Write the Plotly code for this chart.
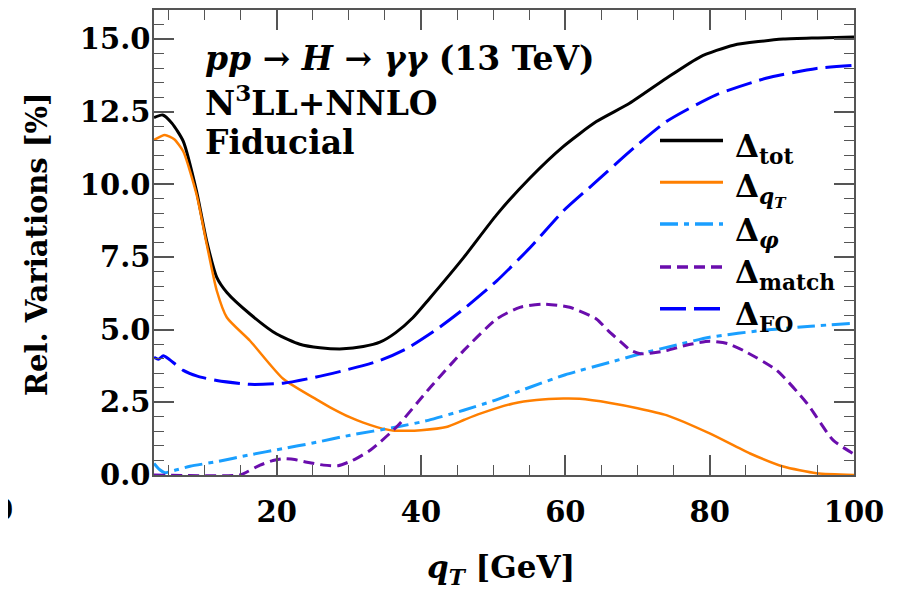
import plotly.graph_objects as go

# ---------------- data ----------------
x_tot = [3, 4.2, 5.5, 7.06, 8.9, 10.3, 11.7, 13.1, 16.3, 20, 23.2, 26, 29.2, 32, 34.3,
         36.5, 38.9, 41.1, 45.9, 50.5, 55.1, 59.7, 64.3, 68.9, 74, 78.7, 83.3, 90.2, 95, 100]
y_tot = [12.3, 12.39, 12.1, 11.48, 9.76, 8.05, 6.8, 6.28, 5.54, 4.85, 4.5, 4.38, 4.34, 4.42, 4.57,
         4.9, 5.42, 6.05, 7.48, 8.96, 10.22, 11.3, 12.16, 12.79, 13.65, 14.39, 14.79, 15.0, 15.04, 15.07]

x_qt = [3, 4.5, 5.8, 7.06, 8.9, 10.3, 11.7, 13.1, 16.3, 20.9, 25.5, 27.4, 30.2, 32, 34, 36.1,
        38, 40, 43.5, 46, 48.2, 52.8, 56, 59.7, 62, 66.2, 70, 74, 80, 85.6, 90.2, 94.8, 100]
y_qt = [11.53, 11.7, 11.55, 11.13, 9.65, 7.95, 6.34, 5.42, 4.62, 3.31, 2.6, 2.33, 1.98, 1.8, 1.64, 1.53,
        1.52, 1.54, 1.65, 1.9, 2.11, 2.46, 2.58, 2.63, 2.62, 2.48, 2.3, 2.06, 1.43, 0.74, 0.29, 0.06, 0.0]

x_phi = [3, 3.8, 4.5, 6, 8, 11.7, 16, 20.9, 25, 30.2, 36.6, 41, 45.9, 50, 55.1, 60, 66.2,
         70.4, 75, 80, 87.8, 94, 100]
y_phi = [0.4, 0.18, 0.08, 0.17, 0.3, 0.46, 0.68, 0.91, 1.1, 1.37, 1.65, 1.88, 2.23, 2.55, 3.02, 3.45, 3.88,
         4.17, 4.45, 4.74, 4.99, 5.12, 5.22]

x_match = [3, 14.9, 16, 17.7, 19.5, 20.9, 22.5, 24, 26.5, 28.5, 30.5, 33, 36.6, 41.3, 45.9, 50.5,
           53.7, 56.9, 60.6, 64.3, 66, 67.6, 69, 70.4, 72, 74, 77, 80, 82.5, 84.7, 89.3, 93.5, 97.1, 100]
y_match = [0.0, 0.0, 0.12, 0.34, 0.5, 0.56, 0.53, 0.45, 0.34, 0.32, 0.5, 0.86, 1.65, 3.02, 4.28, 5.37,
           5.77, 5.88, 5.77, 5.37, 4.95, 4.6, 4.3, 4.17, 4.2, 4.28, 4.48, 4.6, 4.52, 4.28, 3.6, 2.46, 1.2, 0.72]

x_fo = [3, 3.6, 4.3, 5, 7.06, 9, 11.7, 16.3, 20.9, 25.5, 30.2, 34.3, 38, 42.2, 45.9, 50.5, 55.1,
        59.7, 64.3, 68.9, 74, 80.9, 87.8, 94.8, 100]
y_fo = [4.05, 3.98, 4.1, 4.0, 3.6, 3.4, 3.25, 3.12, 3.16, 3.37, 3.65, 3.94, 4.35, 5.02, 5.71, 6.68, 7.82,
        9.08, 10.1, 11.13, 12.16, 13.08, 13.65, 13.99, 14.1]

x_ticks = [20, 40, 60, 80, 100]
y_ticks = [0, 2.5, 5, 7.5, 10, 12.5, 15]

series_names = ["Δ<sub>tot</sub>", "Δ<sub><i>q<sub>T</sub></i></sub>", "Δ<sub><i>φ</i></sub>",
                "Δ<sub>match</sub>", "Δ<sub>FO</sub>"]

# ---------------- styles ----------------
FONT = "DejaVu Serif"
AX = "#555555"
styles = [
    dict(color="#000000", width=3, dash="solid"),
    dict(color="#ff7f00", width=2.5, dash="solid"),
    dict(color="#1a9fff", width=3, dash="18px,6px,5px,6px"),
    dict(color="#6a0dad", width=3, dash="11px,6px"),
    dict(color="#0000ff", width=3, dash="26px,8px"),
]
data = [(x_tot, y_tot), (x_qt, y_qt), (x_phi, y_phi), (x_match, y_match), (x_fo, y_fo)]

fig = go.Figure()
for (xs, ys), st, nm in zip(data, styles, series_names):
    fig.add_trace(go.Scatter(x=xs, y=ys, mode="lines", name=nm,
                             line=dict(color=st["color"], width=st["width"], dash=st["dash"],
                                       shape="spline", smoothing=0.6),
                             showlegend=False))

# page has an 8px body margin: shrink figure so the plot area lands where the reference has it
OFF = 8
W, H = 898 - OFF, 589 - OFF
PL, PR, PT, PB = 154, 854, 8, 475          # plot area in screen pixels
L, T = PL - OFF, PT - OFF
R, B = W - (PR - OFF), H - (PB - OFF)
pw, ph = PR - PL, PB - PT

def px(xp):
    return (xp - PL) / pw

def py(yp):
    return (PB - yp) / ph

# manual legend
rows = [139, 181, 223, 266, 308]
for st, nm, yr in zip(styles, series_names, rows):
    fig.add_shape(type="line", xref="paper", yref="paper",
                  x0=px(660), x1=px(723), y0=py(yr), y1=py(yr),
                  line=dict(color=st["color"], width=st["width"] + 0.5, dash=st["dash"]))
    fig.add_annotation(xref="paper", yref="paper", x=px(733), y=py(yr + 8),
                       xanchor="left", yanchor="middle", text=nm, showarrow=False,
                       font=dict(family=FONT, size=31, color="black", weight="bold"))

# text block
labels = ["<i>pp</i> → <i>H</i> → <i>γγ</i> (13 TeV)", "N<sup>3</sup>LL+NNLO", "Fiducial"]
for t, yc in zip(labels, [57, 99, 141]):
    fig.add_annotation(xref="paper", yref="paper", x=px(203), y=py(yc),
                       xanchor="left", yanchor="middle", text=t, showarrow=False,
                       font=dict(family=FONT, size=33, color="black", weight="bold"))

# axis titles
fig.add_annotation(xref="paper", yref="paper", x=px(37), y=py(243), textangle=-90,
                   xanchor="center", yanchor="middle", showarrow=False,
                   text="Rel. Variations [%]",
                   font=dict(family=FONT, size=29, color="black", weight="bold"))
fig.add_annotation(xref="paper", yref="paper", x=px(501), y=py(570),
                   xanchor="center", yanchor="middle", showarrow=False,
                   text="<i>q</i><sub><i>T</i></sub> [GeV]",
                   font=dict(family=FONT, size=31, color="black", weight="bold"))
# stray "0" tick label, cut off at the far left edge
fig.add_annotation(xref="paper", yref="paper", x=px(3), y=py(510),
                   xanchor="center", yanchor="middle", showarrow=False, text="0",
                   font=dict(family=FONT, size=29, color="black", weight="bold"))

tickfont = dict(family=FONT, size=29, color="black", weight="bold")
fig.update_xaxes(range=[3, 100], tickmode="array", tickvals=x_ticks,
                 ticks="inside", ticklen=20, tickwidth=1.5, tickcolor=AX,
                 showline=True, linecolor=AX, linewidth=1.5, mirror="allticks",
                 showgrid=False, zeroline=False, tickfont=tickfont, ticklabelstandoff=10,
                 minor=dict(tick0=0, dtick=5, ticks="inside", ticklen=10, tickwidth=1.3,
                            tickcolor=AX, showgrid=False))
fig.update_yaxes(range=[0, 16], tickmode="array", tickvals=y_ticks, tickformat=".1f",
                 ticks="inside", ticklen=20, tickwidth=1.5, tickcolor=AX,
                 showline=True, linecolor=AX, linewidth=1.5, mirror="allticks",
                 showgrid=False, zeroline=False, tickfont=tickfont, ticklabelstandoff=-4,
                 minor=dict(tick0=0, dtick=0.5, ticks="inside", ticklen=10, tickwidth=1.3,
                            tickcolor=AX, showgrid=False))

fig.update_layout(width=W, height=H, margin=dict(l=L, r=R, t=T, b=B),
                  paper_bgcolor="white", plot_bgcolor="white", showlegend=False)

fig.write_html("out.html")
